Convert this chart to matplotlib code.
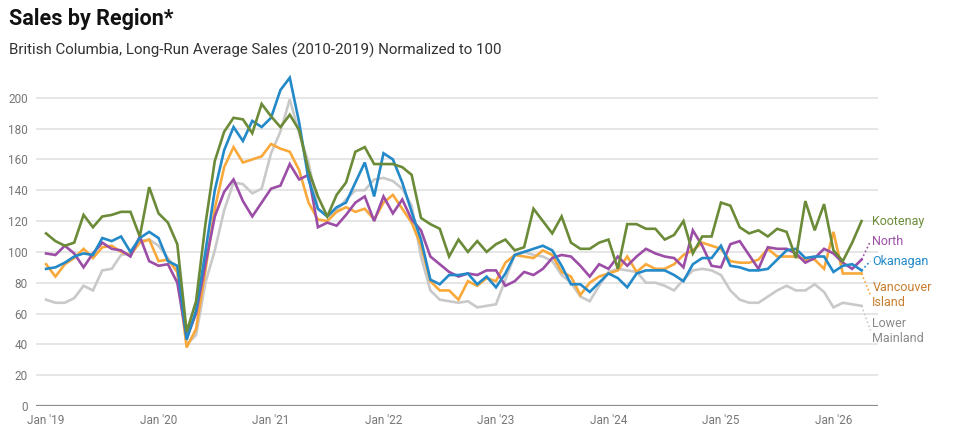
import numpy as np
import matplotlib.pyplot as plt

plt.rcParams['font.family'] = ['Roboto', 'DejaVu Sans']

# monthly index Jan 2019 .. Apr 2026, normalized to 100
kootenay = [112, 107, 104, 106, 124, 116, 123, 124, 126, 126, 110, 142,
            125, 119, 105, 48, 68, 118, 159, 178, 187, 186, 177, 196,
            188, 181, 189, 179, 153, 136, 123, 137, 145, 165, 168, 157,
            157, 157, 155, 150, 122, 118, 115, 97, 108, 100, 107, 100,
            105, 108, 101, 103, 128, 120, 112, 123, 106, 102, 102, 106,
            108, 89, 118, 118, 115, 115, 108, 111, 120, 99, 110, 110,
            132, 130, 116, 112, 114, 110, 115, 113, 96, 133, 114, 131,
            101, 94, 106, 120]
okanagan = [89, 90, 93, 97, 99, 98, 109, 107, 110, 100, 109, 113,
            109, 94, 91, 43, 62, 100, 140, 166, 181, 172, 185, 181,
            187, 205, 213, 184, 147, 128, 123, 129, 132, 145, 158, 136,
            164, 160, 145, 126, 108, 82, 79, 85, 85, 86, 79, 84,
            77, 86, 98, 100, 102, 104, 101, 91, 79, 79, 74, 80,
            86, 83, 77, 86, 88, 88, 88, 85, 81, 92, 96, 96,
            104, 91, 90, 88, 88, 89, 95, 101, 102, 96, 97, 97,
            87, 91, 92, 88]
north = [99, 98, 104, 99, 90, 99, 106, 102, 101, 97, 110, 94,
         91, 92, 80, 44, 60, 92, 123, 139, 147, 133, 123, 132,
         141, 143, 157, 147, 150, 116, 119, 117, 124, 132, 136, 120,
         136, 125, 134, 121, 114, 97, 92, 87, 84, 86, 85, 88,
         88, 78, 81, 87, 85, 89, 96, 98, 97, 91, 84, 92,
         89, 97, 91, 97, 102, 99, 97, 96, 90, 114, 104, 91,
         90, 105, 107, 98, 89, 103, 102, 102, 99, 93, 96, 102,
         99, 93, 89, 95]
van_island = [92, 84, 92, 96, 102, 96, 103, 104, 100, 98, 106, 108,
              94, 95, 87, 38, 50, 88, 128, 155, 168, 158, 160, 162,
              170, 167, 165, 153, 132, 121, 120, 126, 129, 126, 128, 121,
              132, 137, 128, 119, 104, 81, 75, 75, 69, 81, 78, 83,
              81, 93, 98, 97, 96, 101, 98, 87, 84, 72, 80, 84,
              86, 88, 97, 87, 92, 89, 89, 92, 98, 101, 106, 104,
              102, 94, 93, 93, 95, 102, 97, 97, 97, 95, 95, 89,
              113, 86, 86, 86]
lower_mainland = [69, 67, 67, 70, 78, 75, 88, 89, 98, 99, 107, 108,
                  104, 96, 88, 40, 46, 80, 101, 127, 145, 144, 138, 141,
                  164, 178, 199, 177, 158, 128, 123, 127, 134, 140, 140, 147,
                  148, 146, 141, 130, 97, 75, 69, 68, 67, 68, 64, 65,
                  66, 82, 98, 100, 98, 97, 94, 85, 80, 71, 68, 78,
                  87, 89, 88, 87, 80, 80, 78, 75, 82, 88, 89, 88,
                  85, 75, 69, 67, 67, 71, 75, 78, 75, 75, 79, 74,
                  64, 67, 66, 65]

tick_labels = ["Jan '19", "Jan '20", "Jan '21", "Jan '22",
               "Jan '23", "Jan '24", "Jan '25", "Jan '26"]

series = [
    # name, values, line colour, label colour, label y
    ("Lower\nMainland", lower_mainland, '#c9c9c9', '#8a8a8a', 49),
    ("Vancouver\nIsland", van_island, '#f9a93b', '#c97d2e', 72),
    ("North", north, '#9c4ea6', '#9c4ea6', 107),
    ("Okanagan", okanagan, '#2389c8', '#2389c8', 94),
    ("Kootenay", kootenay, '#6b8b38', '#6b8b38', 120),
]

fig = plt.figure(figsize=(9.61, 4.45), dpi=100)
ax = fig.add_axes([0.0375, 0.0876, 0.876, 0.755])

x = np.arange(len(kootenay))
last = x[-1]

for name, vals, col, lcol, ly in series:
    ax.plot(x, vals, color=col, lw=1.9, solid_joinstyle='miter', zorder=3)
    if name != "Kootenay":
        ax.plot([last, last + 0.95], [vals[-1], ly], color=col, lw=1.2,
                ls=(0, (1, 1.5)), zorder=3, clip_on=False)
    ax.text(last + 1.15, ly, name, color=lcol, fontsize=9, va='center',
            ha='left', linespacing=1.2, clip_on=False)

ax.set_xlim(-1.07, 88.74)
ax.set_ylim(0, 218)
ax.set_yticks(np.arange(0, 201, 20))
ax.set_xticks(np.arange(0, 85, 12))
ax.set_xticklabels(tick_labels)

ax.grid(axis='y', color='#e6e6e6', lw=1.4)
ax.set_axisbelow(True)
for s in ['top', 'right', 'left', 'bottom']:
    ax.spines[s].set_visible(False)
ax.axhline(0, color='#8c8c8c', lw=1.6, zorder=2)
ax.tick_params(axis='both', length=0, labelsize=8.5, labelcolor='#777777')
ax.tick_params(axis='y', pad=6)
ax.tick_params(axis='x', pad=6)

fig.text(0.009, 0.957, "Sales by Region*", fontsize=15.5, fontweight='bold',
         color='#111111', va='center')
fig.text(0.009, 0.886, "British Columbia, Long-Run Average Sales (2010-2019) Normalized to 100",
         fontsize=10.9, color='#333333', va='center')

fig.savefig('out.png', dpi=100)
